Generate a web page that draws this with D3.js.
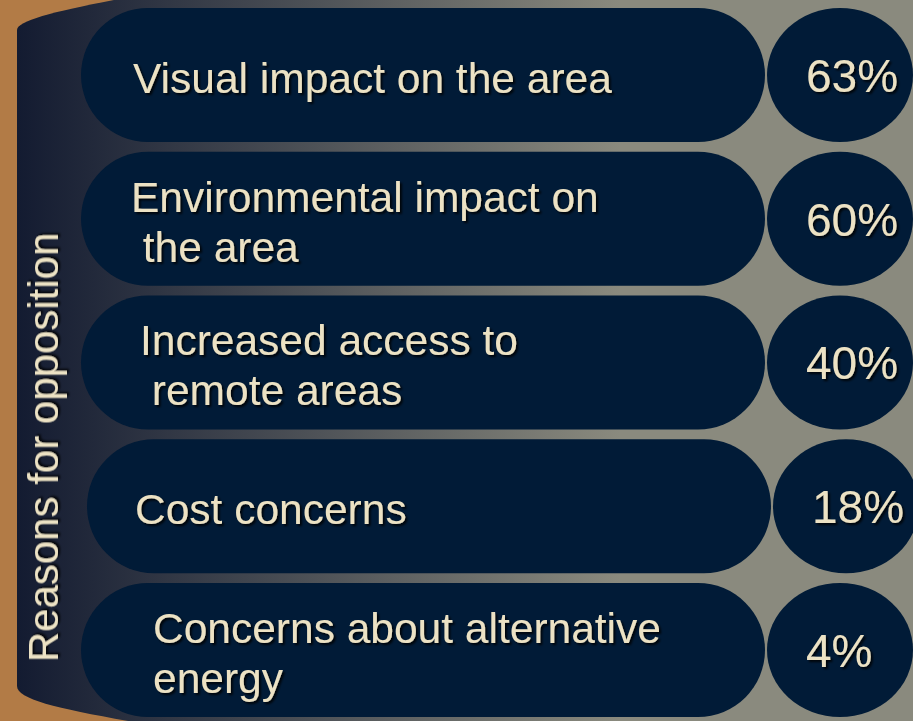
<!DOCTYPE html>
<html>
<head>
<meta charset="utf-8">
<script src="https://cdn.jsdelivr.net/npm/d3@7"></script>
<style>
  html, body { margin: 0; padding: 0; background: #b27b46; }
  svg { display: block; }
  text { font-family: "Liberation Sans", Arial, sans-serif; fill: #ece2c4; }
</style>
</head>
<body>
<div id="container"></div>
<script>
// data
const categories = [
  'Visual impact on the area',
  'Environmental impact on the area',
  'Increased access to remote areas',
  'Cost concerns',
  'Concerns about alternative energy'
];
// how each label is broken in the picture
const labelLines = [
  ['Visual impact on the area'],
  ['Environmental impact on', ' the area'],
  ['Increased access to', ' remote areas'],
  ['Cost concerns'],
  ['Concerns about alternative', 'energy']
];
const shares = [63, 60, 40, 18, 4];
const axisTitle = 'Reasons for opposition';

// layout
const width = 913;
const height = 721;
const labelIndent = [52, 50, 59, 48, 72];
const rowShift = [0, 0, 0, 6, 0];
const pillLeft = 81, pillRight = 765;
const circLeft = 767, circRight = 913;

const svg = d3.select('#container').append('svg')
  .attr('width', width).attr('height', height);

const defs = svg.append('defs');
const grad = defs.append('linearGradient')
  .attr('id', 'bgGrad')
  .attr('gradientUnits', 'userSpaceOnUse')
  .attr('x1', 17).attr('y1', 0).attr('x2', 620).attr('y2', 0);
grad.append('stop').attr('offset', 0).attr('stop-color', '#131b31');
grad.append('stop').attr('offset', 1).attr('stop-color', '#8a8a7e');

const shadow = defs.append('filter').attr('id', 'shadow')
  .attr('x', '-10%').attr('y', '-20%').attr('width', '130%').attr('height', '150%');
shadow.append('feDropShadow')
  .attr('dx', 2).attr('dy', 2).attr('stdDeviation', 1)
  .attr('flood-color', '#000').attr('flood-opacity', 0.85);

// backdrop panel with curved top and bottom corners
svg.append('path')
  .attr('d', 'M17,30 C17,20 60,10 135,-4 L920,-4 L920,730 L180,730 C75,712 17,702 17,686 Z')
  .attr('fill', 'url(#bgGrad)');

const y = d3.scaleBand()
  .domain(categories)
  .range([8, 717])
  .paddingInner(0.068)
  .paddingOuter(0);

const bh = y.bandwidth();

const rows = svg.selectAll('.row')
  .data(categories)
  .enter().append('g')
  .attr('class', 'row')
  .attr('transform', (d, i) => `translate(${rowShift[i]},${y(d)})`);

rows.append('rect')
  .attr('x', pillLeft)
  .attr('y', 0)
  .attr('width', pillRight - pillLeft)
  .attr('height', bh)
  .attr('rx', bh / 2)
  .attr('ry', bh / 2)
  .attr('fill', '#011b37');

rows.append('ellipse')
  .attr('cx', (circLeft + circRight) / 2)
  .attr('cy', bh / 2)
  .attr('rx', (circRight - circLeft) / 2)
  .attr('ry', bh / 2)
  .attr('fill', '#011b37');

rows.each(function(d, i) {
  const g = d3.select(this);
  const lines = labelLines[i];
  const first = bh / 2 + 18 - (lines.length - 1) * 25;
  const t = g.append('text')
    .attr('x', pillLeft + labelIndent[i])
    .attr('y', first)
    .attr('font-size', 42.5)
    .attr('filter', 'url(#shadow)')
    .style('white-space', 'pre');
  lines.forEach((ln, k) => {
    t.append('tspan')
      .attr('x', pillLeft + labelIndent[i])
      .attr('y', first + k * 50)
      .text(ln);
  });

  g.append('text')
    .attr('x', circLeft + 39)
    .attr('y', bh / 2 + 17)
    .attr('font-size', 46)
    .attr('filter', 'url(#shadow)')
    .text(shares[i] + '%');
});

svg.append('text')
  .attr('transform', `translate(58,${(232 + 663) / 2}) rotate(-90)`)
  .attr('text-anchor', 'middle')
  .attr('font-size', 42)
  .attr('filter', 'url(#shadow)')
  .text(axisTitle);
</script>
</body>
</html>
